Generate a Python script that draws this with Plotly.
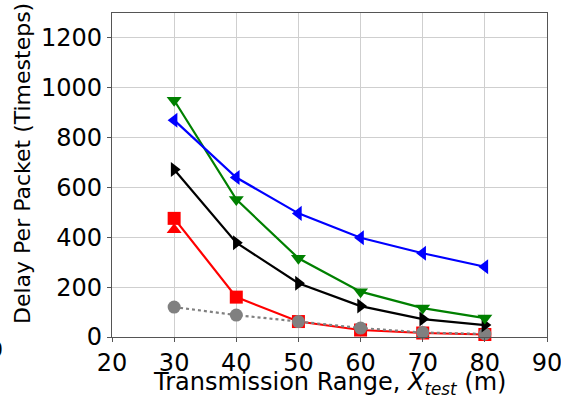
import plotly.graph_objects as go

x = [30, 40, 50, 60, 70, 80]
blue_vals = [870, 640, 496, 398, 336, 282]
green_vals = [950, 552, 316, 182, 116, 76]
black_vals = [672, 378, 216, 124, 72, 48]
red_vals = [476, 160, 62, 28, 16, 10]
red_tri_x = [30]
red_tri_vals = [430]
gray_vals = [120, 88, 62, 36, 18, 12]

x_ticks = [20, 30, 40, 50, 60, 70, 80, 90]
y_ticks = [0, 200, 400, 600, 800, 1000, 1200]

fig = go.Figure()

def add(xs, ys, color, symbol, dash="solid", size=13):
    fig.add_trace(go.Scatter(
        x=xs, y=ys, mode="lines+markers",
        line=dict(color=color, width=2.2, dash=dash),
        marker=dict(symbol=symbol, size=size, color=color),
        showlegend=False, cliponaxis=False))

add(x, red_vals, "#ff0000", "square")
add(red_tri_x, red_tri_vals, "#ff0000", "triangle-up")
add(x, gray_vals, "#808080", "circle", dash="dot")
add(x, black_vals, "#000000", "triangle-right")
add(x, green_vals, "#008000", "triangle-down")
add(x, blue_vals, "#0000ff", "triangle-left")

axis_common = dict(
    showgrid=True, gridcolor="#cfcfcf", gridwidth=1,
    showline=True, linecolor="#555555", linewidth=1.3, mirror=True,
    ticks="outside", ticklen=4, tickcolor="#555555",
    tickfont=dict(family="DejaVu Sans", size=24, color="#000000"),
    zeroline=False, automargin=False, ticklabeloverflow="allow",
)

fig.update_xaxes(range=[20, 90], tickvals=x_ticks, **axis_common)
fig.update_yaxes(range=[0, 1300], tickvals=y_ticks, **axis_common)

fig.add_annotation(
    text="Transmission Range, <i>X</i><sub><i>test</i></sub> (m)",
    xref="paper", yref="paper", x=0.5, y=-0.198,
    xanchor="center", yanchor="bottom", showarrow=False,
    font=dict(family="DejaVu Sans", size=24, color="#000000"))
fig.add_annotation(
    text="Delay Per Packet (Timesteps)", textangle=-90,
    xref="paper", yref="paper", x=-0.207, y=0.537,
    xanchor="center", yanchor="middle", showarrow=False,
    font=dict(family="DejaVu Sans", size=22, color="#000000"))
fig.add_annotation(
    text="0", xref="paper", yref="paper", x=-0.246, y=-0.04,
    xanchor="right", yanchor="middle", showarrow=False,
    font=dict(family="DejaVu Sans", size=22, color="#000000"))

fig.update_layout(
    width=561, height=405,
    margin=dict(l=112, r=14, t=13, b=68),
    plot_bgcolor="white", paper_bgcolor="white",
)

fig.write_html("out.html")
